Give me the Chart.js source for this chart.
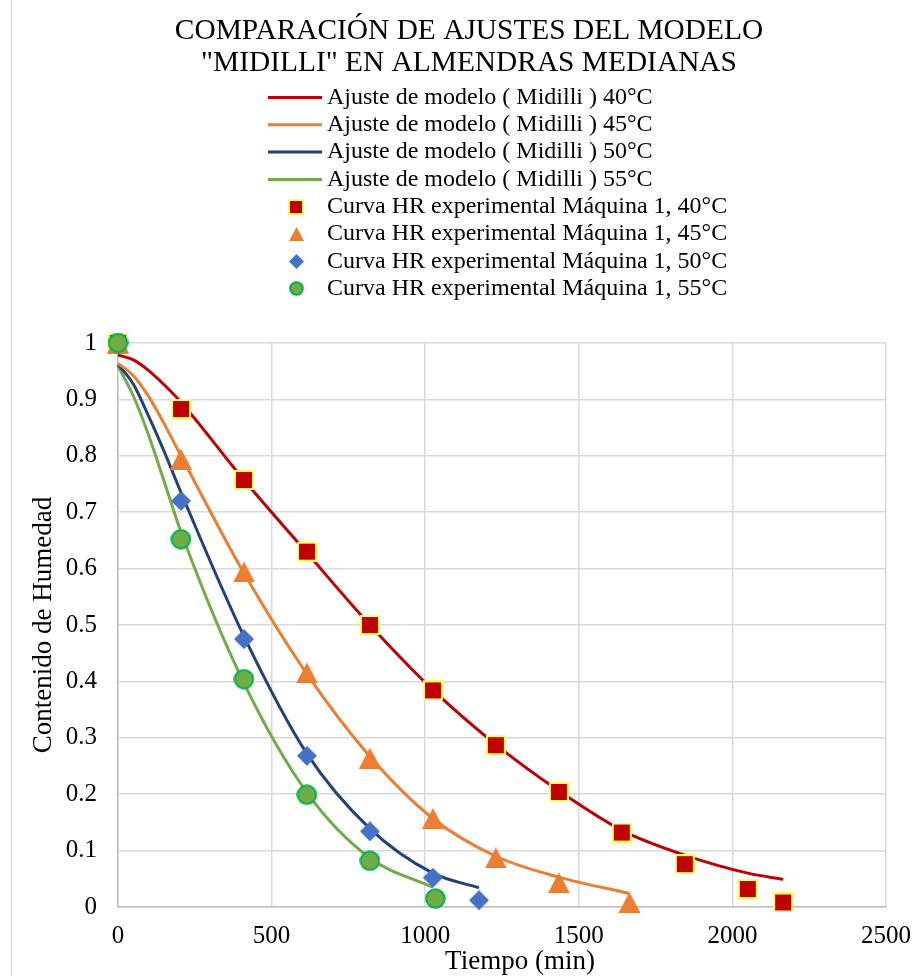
<!DOCTYPE html>
<html><head><meta charset="utf-8">
<script src="https://cdn.jsdelivr.net/npm/chart.js@4/dist/chart.umd.min.js"></script>
<style>html,body{margin:0;padding:0;background:#fff;}</style>
</head><body>
<canvas id="c" width="920" height="976"></canvas>
<script>
// ---- text ----
const titleLines = ['COMPARACIÓN DE AJUSTES DEL MODELO', '"MIDILLI" EN ALMENDRAS MEDIANAS'];
const xTitle = 'Tiempo (min)';
const yTitle = 'Contenido de Humedad';
const fitLabels = ['Ajuste de modelo ( Midilli ) 40°C','Ajuste de modelo ( Midilli ) 45°C','Ajuste de modelo ( Midilli ) 50°C','Ajuste de modelo ( Midilli ) 55°C'];
const expLabels = ['Curva HR experimental Máquina 1, 40°C','Curva HR experimental Máquina 1, 45°C','Curva HR experimental Máquina 1, 50°C','Curva HR experimental Máquina 1, 55°C'];
const xTicks = [0, 500, 1000, 1500, 2000, 2500];
const yTicks = [0, 0.1, 0.2, 0.3, 0.4, 0.5, 0.6, 0.7, 0.8, 0.9, 1];

const t40 = [0, 205, 410, 615, 820, 1025, 1230, 1435, 1640, 1845, 2050, 2165];
const exp40 = [1, 0.883, 0.757, 0.63, 0.5, 0.384, 0.287, 0.204, 0.132, 0.076, 0.032, 0.008];
const t45 = [0, 205, 410, 615, 820, 1025, 1230, 1435, 1665];
const exp45 = [1, 0.794, 0.594, 0.415, 0.264, 0.157, 0.087, 0.043, 0.008];
const t50 = [0, 205, 410, 615, 820, 1025, 1175];
const exp50 = [1, 0.72, 0.475, 0.268, 0.134, 0.052, 0.012];
const t55 = [0, 205, 410, 615, 820, 1033];
const exp55 = [1, 0.652, 0.404, 0.199, 0.082, 0.015];

// ---- model curves ----
const tFit40 = [0, 50, 100, 150, 205, 410, 615, 820, 1025, 1230, 1435, 1640, 1845, 2050, 2165];
const fit40 = [0.979, 0.970, 0.951, 0.926, 0.895, 0.757, 0.628, 0.5, 0.385, 0.288, 0.206, 0.136, 0.092, 0.06, 0.049];
const tFit45 = [0, 50, 100, 150, 205, 410, 615, 820, 1025, 1230, 1435, 1665];
const fit45 = [0.964, 0.942, 0.905, 0.857, 0.8, 0.592, 0.413, 0.267, 0.157, 0.09, 0.053, 0.024];
const tFit50 = [0, 50, 100, 150, 205, 410, 615, 820, 1025, 1175];
const fit50 = [0.962, 0.927, 0.870, 0.808, 0.735, 0.48, 0.272, 0.139, 0.06, 0.034];
const tFit55 = [0, 50, 100, 150, 205, 410, 615, 820, 1025];
const fit55 = [0.959, 0.906, 0.836, 0.755, 0.665, 0.397, 0.203, 0.087, 0.035];

// ---- styles ----
const FONT = 'Liberation Serif';
const lineColors = ['#c00000', '#ed7d31', '#22407a', '#70ad47'];

function marker(kind, s) {
  const c = document.createElement('canvas');
  const ctx = c.getContext('2d');
  if (kind === 'square') {
    c.width = s; c.height = s;
    ctx.fillStyle = '#ffff5c'; ctx.fillRect(0, 0, s, s);
    ctx.fillStyle = '#c00000'; ctx.fillRect(2, 2, s - 4, s - 4);
  } else if (kind === 'triangle') {
    const w = s + 2, h = s + 1;
    c.width = w; c.height = h;
    ctx.fillStyle = '#ed7d31';
    ctx.beginPath(); ctx.moveTo(w / 2, 0); ctx.lineTo(w, h); ctx.lineTo(0, h); ctx.closePath(); ctx.fill();
  } else if (kind === 'diamond') {
    c.width = s; c.height = s;
    ctx.fillStyle = '#4472c4';
    ctx.beginPath(); ctx.moveTo(s / 2, 0); ctx.lineTo(s, s / 2); ctx.lineTo(s / 2, s); ctx.lineTo(0, s / 2); ctx.closePath(); ctx.fill();
  } else {
    c.width = s; c.height = s;
    ctx.fillStyle = '#70ad47'; ctx.strokeStyle = '#00b050'; ctx.lineWidth = 2;
    ctx.beginPath(); ctx.arc(s / 2, s / 2, s / 2 - 1.2, 0, Math.PI * 2); ctx.fill(); ctx.stroke();
  }
  return c;
}
const bigMarkers = [marker('square', 20), marker('triangle', 20), marker('diamond', 20), marker('circle', 21)];
const smallMarkers = [marker('square', 16), marker('triangle', 13), marker('diamond', 15), marker('circle', 15)];

const pts = (xs, ys) => xs.map((x, i) => ({ x: x, y: ys[i] }));

const fitSets = [[tFit40, fit40], [tFit45, fit45], [tFit50, fit50], [tFit55, fit55]].map((d, i) => ({
  label: fitLabels[i], data: pts(d[0], d[1]), showLine: true, borderColor: lineColors[i],
  backgroundColor: lineColors[i], borderWidth: 3, pointRadius: 0, cubicInterpolationMode: 'monotone',
  order: 10 + i, clip: false
}));
const expSets = [[t40, exp40], [t45, exp45], [t50, exp50], [t55, exp55]].map((d, i) => ({
  label: expLabels[i], data: pts(d[0], d[1]), showLine: false, pointStyle: bigMarkers[i],
  pointRadius: 10, order: 3 - i, clip: false
}));

const deco = {
  id: 'deco',
  afterDraw(chart) {
    const ctx = chart.ctx;
    const a = chart.chartArea;
    ctx.save();
    ctx.strokeStyle = '#d9d9d9'; ctx.lineWidth = 1;
    ctx.beginPath(); ctx.moveTo(11.5, 0); ctx.lineTo(11.5, 976); ctx.stroke();
    ctx.fillStyle = '#000';
    ctx.textBaseline = 'middle';
    ctx.font = '29.4px "' + FONT + '", serif'; ctx.textAlign = 'center';
    titleLines.forEach((t, i) => ctx.fillText(t, 469, 31 + i * 32));
    ctx.font = '24px "' + FONT + '", serif'; ctx.textAlign = 'left';
    const labels = fitLabels.concat(expLabels);
    labels.forEach((t, i) => {
      const y = 97.5 + i * 27.3;
      if (i < 4) {
        ctx.strokeStyle = lineColors[i]; ctx.lineWidth = 3;
        ctx.beginPath(); ctx.moveTo(268, y); ctx.lineTo(322, y); ctx.stroke();
      } else {
        const m = smallMarkers[i - 4];
        ctx.drawImage(m, Math.round(296 - m.width / 2), Math.round(y - m.height / 2));
      }
      ctx.fillStyle = '#000';
      ctx.fillText(t, 327, y);
    });
    ctx.font = '27px "' + FONT + '", serif'; ctx.textAlign = 'center';
    ctx.fillText(xTitle, (a.left + a.right) / 2 + 18, 962);
    ctx.translate(44, (a.top + a.bottom) / 2);
    ctx.rotate(-Math.PI / 2);
    ctx.fillText(yTitle, 0, 0);
    ctx.restore();
  }
};

new Chart(document.getElementById('c'), {
  type: 'scatter',
  data: { datasets: fitSets.concat(expSets) },
  options: {
    responsive: false, animation: false, devicePixelRatio: 1,
    layout: { padding: { top: 343, right: 34, bottom: 0, left: 0 } },
    plugins: { legend: { display: false }, title: { display: false }, tooltip: { enabled: false } },
    events: [],
    scales: {
      x: {
        type: 'linear', min: 0, max: 2500,
        afterBuildTicks: s => { s.ticks = xTicks.map(v => ({ value: v })); },
        afterFit: s => { s.height = 69; s.paddingLeft = 0; s.paddingRight = 0; },
        ticks: { color: '#000', font: { family: FONT, size: 25 }, padding: 14, maxRotation: 0,
                 callback: v => String(v) },
        grid: { color: '#d9d9d9', lineWidth: 1.5, drawTicks: false },
        border: { color: '#bfbfbf', width: 1.5 }
      },
      y: {
        type: 'linear', min: 0, max: 1,
        afterBuildTicks: s => { s.ticks = yTicks.map(v => ({ value: v })); },
        afterFit: s => { s.width = 118; s.paddingTop = 0; s.paddingBottom = 0; },
        ticks: { color: '#000', font: { family: FONT, size: 25 }, padding: 21,
                 callback: v => String(v) },
        grid: { color: '#d9d9d9', lineWidth: 1.5, drawTicks: false },
        border: { color: '#bfbfbf', width: 1.5 }
      }
    }
  },
  plugins: [deco]
});
</script>
</body></html>
